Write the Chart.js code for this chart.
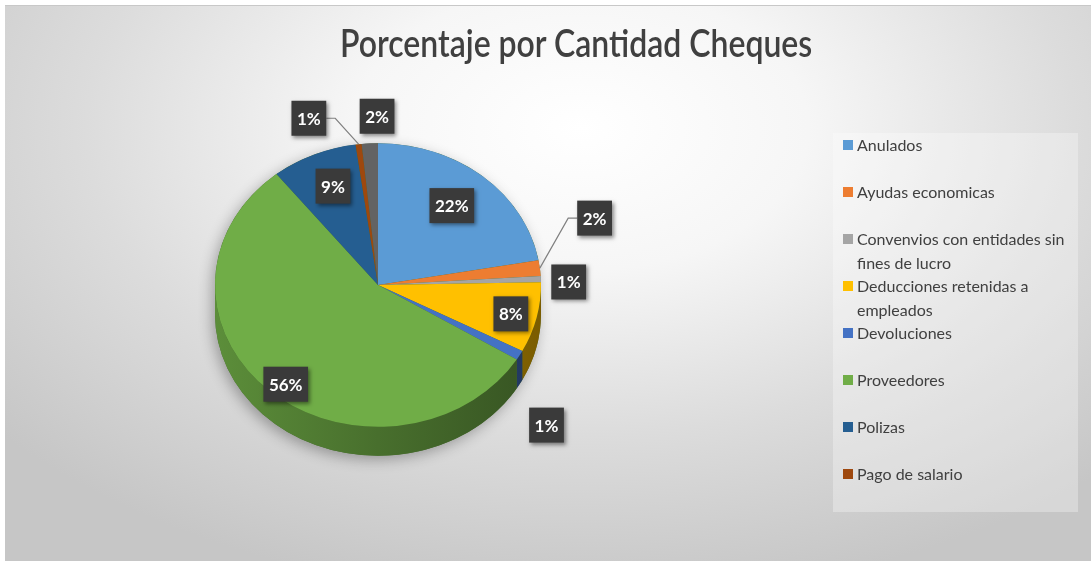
<!DOCTYPE html>
<html lang="es">
<head>
<meta charset="utf-8">
<title>Porcentaje por Cantidad Cheques</title>
<script src="https://cdn.jsdelivr.net/npm/chart.js@4.4.1/dist/chart.umd.min.js"></script>
<style>
  html, body { margin: 0; padding: 0; background: #fff; }
  #frame {
    position: absolute; left: 5px; top: 5px; width: 1086px; height: 556px;
    background: radial-gradient(ellipse 70% 85% at 53% 22%, #ffffff 0%, #f6f6f6 30%, #dcdcdc 65%, #c6c6c6 100%);
    border-top: 1px solid #c8c8c8;
  }
  #chartBox { position: absolute; left: 0; top: 0; width: 1091px; height: 561px; }
  #title {
    position: absolute; left: 576px; top: 19px;
    transform-origin: 0 0;
    white-space: nowrap;
    font-family: Lato, sans-serif; font-weight: 600;
    font-size: 38px; line-height: 46px; color: #404040;
  }
  #legend {
    position: absolute; left: 833px; top: 133px; width: 245px; height: 379px;
    background: rgba(255, 255, 255, 0.3);
    font-family: Lato, sans-serif; font-size: 16px; color: #404040;
  }
  .item { display: flex; align-items: flex-start; height: 47px; padding-left: 10px; line-height: 24px; }
  .item .mark { width: 10px; height: 10px; margin-top: 7px; margin-right: 4px; flex: none; }
  .item .txt { width: 214px; }
</style>
</head>
<body>
<div id="frame"></div>
<div id="chartBox"><canvas id="chart" width="1091" height="561"></canvas></div>
<div id="title">Porcentaje por Cantidad Cheques</div>
<div id="legend"></div>
<script>
const categories = [
  'Anulados',
  'Ayudas economicas',
  'Convenvios con entidades sin fines de lucro',
  'Deducciones retenidas a empleados',
  'Devoluciones',
  'Proveedores',
  'Polizas',
  'Pago de salario',
  'Otros'
];
// share of cheques, in percent
const shares = [22.2, 1.8, 0.7, 8.0, 1.1, 55.5, 8.5, 0.6, 1.6];
const colors = ['#5B9BD5', '#ED7D31', '#A5A5A5', '#FFC000', '#4472C4', '#70AD47', '#255E91', '#9E480E', '#636363'];
const legendCount = 8; // the last slice has no legend entry

// where each value label sits: [radius factor, angle shift in degrees, leader line]
const labelSpots = [
  [0.72, -1, false],
  [1.41, -12.7, true],
  [1.17, 1.3, false],
  [0.84, 0.7, false],
  [1.43, 14, false],
  [0.90, -2.6, false],
  [0.75, 1.6, false],
  [1.25, -13, true],
  [1.19, 2.6, false]
];

const SQUASH = 0.87;  // vertical tilt of the pie face
const DEPTH = 29;     // thickness of the pie side

function shade(hex, f) {
  const n = parseInt(hex.slice(1), 16);
  const r = Math.round(((n >> 16) & 255) * f);
  const g = Math.round(((n >> 8) & 255) * f);
  const b = Math.round((n & 255) * f);
  return `rgb(${r},${g},${b})`;
}

const pie3d = {
  id: 'pie3d',
  beforeDatasetsDraw(chart) {
    const ctx = chart.ctx;
    const arcs = chart.getDatasetMeta(0).data;
    const cx = arcs[0].x, cy = arcs[0].y, r = arcs[0].outerRadius;
    const ry = r * SQUASH;

    // body with a soft shadow
    ctx.save();
    ctx.shadowColor = 'rgba(0,0,0,0.3)';
    ctx.shadowBlur = 14;
    ctx.shadowOffsetX = -3;
    ctx.shadowOffsetY = 4;
    ctx.beginPath();
    ctx.ellipse(cx, cy, r, ry, 0, Math.PI, 2 * Math.PI);
    ctx.ellipse(cx, cy + DEPTH, r, ry, 0, 0, Math.PI);
    ctx.closePath();
    ctx.fillStyle = shade(colors[5], 0.6);
    ctx.fill();
    ctx.restore();

    // side walls of the front half
    arcs.forEach((arc, i) => {
      const a = Math.max(arc.startAngle, 0);
      const b = Math.min(arc.endAngle, Math.PI);
      if (b <= a) return;
      const grad = ctx.createLinearGradient(cx - r, 0, cx + r, 0);
      grad.addColorStop(0, shade(colors[i], 0.82));
      grad.addColorStop(0.5, shade(colors[i], 0.64));
      grad.addColorStop(1, shade(colors[i], 0.48));
      ctx.beginPath();
      ctx.ellipse(cx, cy, r, ry, 0, a, b);
      ctx.ellipse(cx, cy + DEPTH, r, ry, 0, b, a, true);
      ctx.closePath();
      ctx.fillStyle = grad;
      ctx.fill();
    });

    // tilt the pie face
    ctx.save();
    ctx.translate(cx, cy);
    ctx.scale(1, SQUASH);
    ctx.translate(-cx, -cy);
  },
  afterDatasetsDraw(chart) {
    const ctx = chart.ctx;
    ctx.restore();

    const arcs = chart.getDatasetMeta(0).data;
    const values = chart.data.datasets[0].data;
    ctx.save();
    ctx.font = 'bold 17px Lato, sans-serif';
    ctx.textAlign = 'center';
    ctx.textBaseline = 'middle';
    arcs.forEach((arc, i) => {
      const [f, shift, leader] = labelSpots[i];
      const cx = arc.x, cy = arc.y, r = arc.outerRadius, ry = r * SQUASH;
      const mid = (arc.startAngle + arc.endAngle) / 2;
      const ang = mid + shift * Math.PI / 180;
      const x = cx + Math.cos(ang) * r * f;
      const y = cy + Math.sin(ang) * ry * f;
      const text = Math.round(values[i]) + '%';
      const w = ctx.measureText(text).width + 11;
      const h = 35;

      if (leader) {
        const side = x > cx ? -1 : 1;
        const bx = x + side * w / 2;
        ctx.beginPath();
        ctx.moveTo(bx, y);
        ctx.lineTo(bx + side * 9, y);
        ctx.lineTo(cx + Math.cos(mid) * r, cy + Math.sin(mid) * ry);
        ctx.strokeStyle = '#808080';
        ctx.lineWidth = 1.2;
        ctx.stroke();
      }

      ctx.shadowColor = 'rgba(0,0,0,0.45)';
      ctx.shadowBlur = 4;
      ctx.shadowOffsetX = 2;
      ctx.shadowOffsetY = 2;
      ctx.fillStyle = '#3a3a3a';
      ctx.fillRect(x - w / 2, y - h / 2, w, h);
      ctx.shadowColor = 'transparent';
      ctx.fillStyle = '#ffffff';
      ctx.fillText(text, x, y + 1);
    });
    ctx.restore();
  }
};

new Chart(document.getElementById('chart'), {
  type: 'pie',
  data: {
    labels: categories,
    datasets: [{
      data: shares,
      backgroundColor: colors,
      borderWidth: 0
    }]
  },
  options: {
    responsive: false,
    animation: false,
    events: [],
    layout: { padding: { left: 215, right: 550, top: 122, bottom: 113 } },
    plugins: {
      legend: { display: false },
      title: { display: false },
      tooltip: { enabled: false }
    }
  },
  plugins: [pie3d]
});

// title: narrow it to the width of the heading block, centred over the page
const title = document.getElementById('title');
const titleWidth = title.offsetWidth;
title.style.transform = `translateX(-236px) scaleX(${472 / titleWidth})`;

// legend entries
const legend = document.getElementById('legend');
categories.slice(0, legendCount).forEach((name, i) => {
  const item = document.createElement('div');
  item.className = 'item';
  item.innerHTML = `<span class="mark" style="background:${colors[i]}"></span><span class="txt">${name}</span>`;
  legend.appendChild(item);
});
</script>
</body>
</html>
